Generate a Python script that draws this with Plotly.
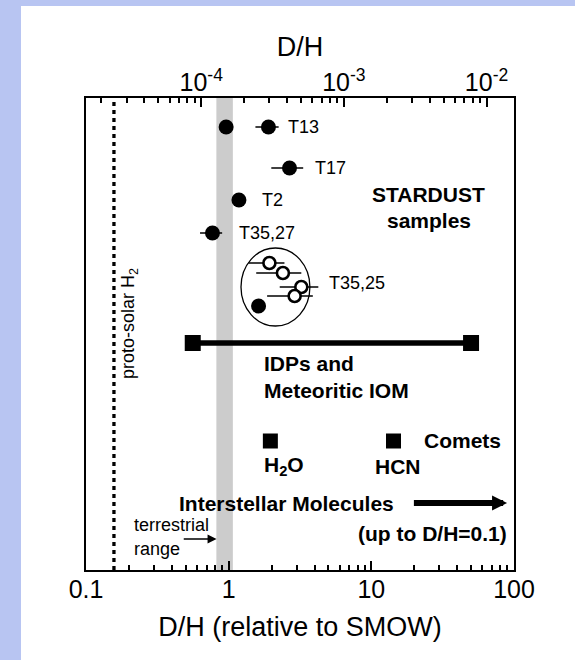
import numpy as np
import plotly.graph_objects as go

SMOW = 155.76e-6  # D/H of SMOW

# STARDUST samples, filled symbols (D/H relative to SMOW)
filled_labels = ["T13", "T13", "T17", "T2", "T35,27", "T35,25"]
filled_x = [0.96, 1.90, 2.67, 1.18, 0.77, 1.62]
filled_lo = [0.96, 1.54, 1.99, 1.18, 0.63, 1.62]
filled_hi = [0.96, 2.24, 3.33, 1.18, 0.90, 1.62]
filled_row = [443, 443, 402, 370, 337, 264]

# STARDUST T35,25 open symbols
open_x = [1.93, 2.40, 3.23, 2.90]
open_lo = [1.38, 1.56, 2.28, 1.86]
open_hi = [2.46, 3.23, 4.25, 3.89]
open_row = [307, 297, 283, 274]

# IDPs and meteoritic IOM range
idp_range = [0.56, 50]
idp_row = 227

# Comets
comet_labels = ["H<sub>2</sub>O", "HCN"]
comet_x = [1.96, 14.3]
comet_row = 129

# Terrestrial range and proto-solar value
terrestrial_range = [0.82, 1.07]
protosolar = 0.157

# Interstellar molecules arrow (extends beyond plot)
interstellar_span = [19.4, 89.4]
interstellar_row = 67

FONT = "Liberation Sans, Arial, sans-serif"
W, H = 575, 660
L, R, T, B = 86, 61, 98, 90
pw, ph = W - L - R, H - T - B

fig = go.Figure()

# invisible trace for top axis
fig.add_trace(go.Scatter(x=[1e-4], y=[0], xaxis="x2", yaxis="y", mode="markers",
                         marker=dict(opacity=0), hoverinfo="skip", showlegend=False))

# IDPs bar
fig.add_trace(go.Scatter(x=idp_range, y=[idp_row] * 2, mode="lines+markers",
                         line=dict(color="black", width=5.5),
                         marker=dict(symbol="square", size=16, color="black"),
                         showlegend=False, hoverinfo="skip"))

# Comets
fig.add_trace(go.Scatter(x=comet_x, y=[comet_row] * len(comet_x), mode="markers",
                         marker=dict(symbol="square", size=15, color="black"),
                         showlegend=False, hoverinfo="skip"))

# Filled STARDUST points
fx = np.array(filled_x)
fig.add_trace(go.Scatter(
    x=filled_x, y=filled_row, mode="markers",
    marker=dict(symbol="circle", size=15, color="black"),
    error_x=dict(type="data", symmetric=False,
                 array=list(np.array(filled_hi) - fx),
                 arrayminus=list(fx - np.array(filled_lo)),
                 color="black", thickness=1.5, width=0),
    showlegend=False, hoverinfo="skip"))

# Open STARDUST points
ox = np.array(open_x)
fig.add_trace(go.Scatter(
    x=open_x, y=open_row, mode="markers",
    marker=dict(symbol="circle", size=12, color="white", line=dict(color="black", width=2.6)),
    error_x=dict(type="data", symmetric=False,
                 array=list(np.array(open_hi) - ox),
                 arrayminus=list(ox - np.array(open_lo)),
                 color="black", thickness=1.5, width=0),
    showlegend=False, hoverinfo="skip"))

shapes = [
    # terrestrial band
    dict(type="rect", xref="x", yref="paper", x0=terrestrial_range[0], x1=terrestrial_range[1],
         y0=0, y1=1, fillcolor="#CCCCCC", line=dict(width=0), layer="below"),
    # proto-solar line
    dict(type="line", xref="x", yref="paper", x0=protosolar, x1=protosolar, y0=0, y1=1,
         line=dict(color="black", width=3.3, dash="4px,4px")),
    # ellipse around T35,25
    dict(type="circle", xref="x", yref="y", x0=1.22, x1=3.71, y0=244, y1=322,
         line=dict(color="black", width=1.3)),
    # blue strips
    dict(type="rect", xref="paper", yref="paper", x0=-L / pw, x1=(21 - L) / pw,
         y0=-B / ph, y1=(H - B) / ph, fillcolor="#B8C5F2", line=dict(width=0), layer="below"),
    dict(type="rect", xref="paper", yref="paper", x0=-L / pw, x1=(W - L) / pw,
         y0=(H - B - 6) / ph, y1=(H - B) / ph, fillcolor="#B8C5F2", line=dict(width=0), layer="below"),
]

lg = np.log10


def txt(text, x, y, size=18, bold=False, xanchor="left", **kw):
    return dict(text=f"<b>{text}</b>" if bold else text, x=lg(x), y=y, xref="x", yref="y",
                showarrow=False, xanchor=xanchor, yanchor="middle",
                font=dict(family=FONT, size=size, color="black"), **kw)


annotations = [
    txt("T13", 2.53, 443),
    txt("T17", 3.92, 402),
    txt("T2", 1.67, 370),
    txt("T35,27", 1.146, 337),
    txt("T35,25", 4.86, 287),
    txt("STARDUST", 25.3, 376, size=21, bold=True, xanchor="center"),
    txt("samples", 25.3, 350, size=21, bold=True, xanchor="center"),
    txt("IDPs and", 1.717, 207, size=21, bold=True),
    txt("Meteoritic IOM", 1.717, 180, size=21, bold=True),
    txt("Comets", 22.5, 130, size=21, bold=True),
    txt(comet_labels[0], 1.70, 104, size=21, bold=True),
    txt(comet_labels[1], 10.35, 104, size=21, bold=True),
    txt("Interstellar Molecules", 0.434, 67, size=21, bold=True),
    txt("(up to D/H=0.1)", 92.5, 37, size=21, bold=True, xanchor="right"),
    txt("terrestrial", 0.2100, 45, size=18),
    txt("range", 0.2100, 21, size=18),
    txt("proto-solar H<sub>2</sub>", 0.2005, 246, size=18, xanchor="center", textangle=-90),
    # interstellar arrow
    dict(text="", x=lg(interstellar_span[1]), y=interstellar_row, ax=lg(interstellar_span[0]),
         ay=interstellar_row, xref="x", yref="y", axref="x", ayref="y", showarrow=True,
         arrowhead=2, arrowwidth=6, arrowsize=0.5, arrowcolor="black", standoff=0, startstandoff=0),
    # terrestrial arrow
    dict(text="", x=-0.085, y=31, ax=-0.3254, ay=31, xref="x", yref="y", axref="x", ayref="y",
         showarrow=True, arrowhead=2, arrowwidth=1.5, arrowsize=1.2, arrowcolor="black",
         standoff=0, startstandoff=0),
]

axis_common = dict(showgrid=False, zeroline=False, showline=True, linecolor="black", linewidth=2,
                   ticks="inside", ticklen=9, tickwidth=1.5, tickcolor="black",
                   minor=dict(ticks="inside", ticklen=5, tickwidth=1.5, tickcolor="black",
                              dtick="D1", showgrid=False))

fig.update_layout(
    width=W, height=H,
    margin=dict(l=L, r=R, t=T, b=B),
    paper_bgcolor="white", plot_bgcolor="white",
    font=dict(family=FONT, color="black"),
    showlegend=False,
    shapes=shapes,
    annotations=annotations,
    xaxis=dict(type="log", range=[-1, 2], tick0=0, dtick=1,
               tickvals=[0.1, 1, 10, 100], ticktext=["0.1", "1", "10", "100"],
               tickfont=dict(size=25), ticklabelstandoff=-4,
               title=dict(text="D/H (relative to SMOW)", font=dict(size=27), standoff=15),
               **axis_common),
    xaxis2=dict(type="log", range=[lg(0.1 * SMOW), lg(100 * SMOW)], overlaying="x", side="top",
                anchor="y", tick0=0, dtick=1, exponentformat="power",
                tickvals=[1e-4, 1e-3, 1e-2],
                ticktext=["10<sup>-4</sup>", "10<sup>-3</sup>", "10<sup>-2</sup>"],
                tickfont=dict(size=25), ticklabelstandoff=-5,
                title=dict(text="D/H", font=dict(size=27), standoff=0),
                **axis_common),
    yaxis=dict(range=[0, 472], showgrid=False, zeroline=False, showline=True, mirror=True,
               linecolor="black", linewidth=2, showticklabels=False, ticks=""),
)

fig.write_html("out.html", config={"displayModeBar": False},
               post_script="document.body.style.margin='0';document.body.style.overflow='hidden';")
